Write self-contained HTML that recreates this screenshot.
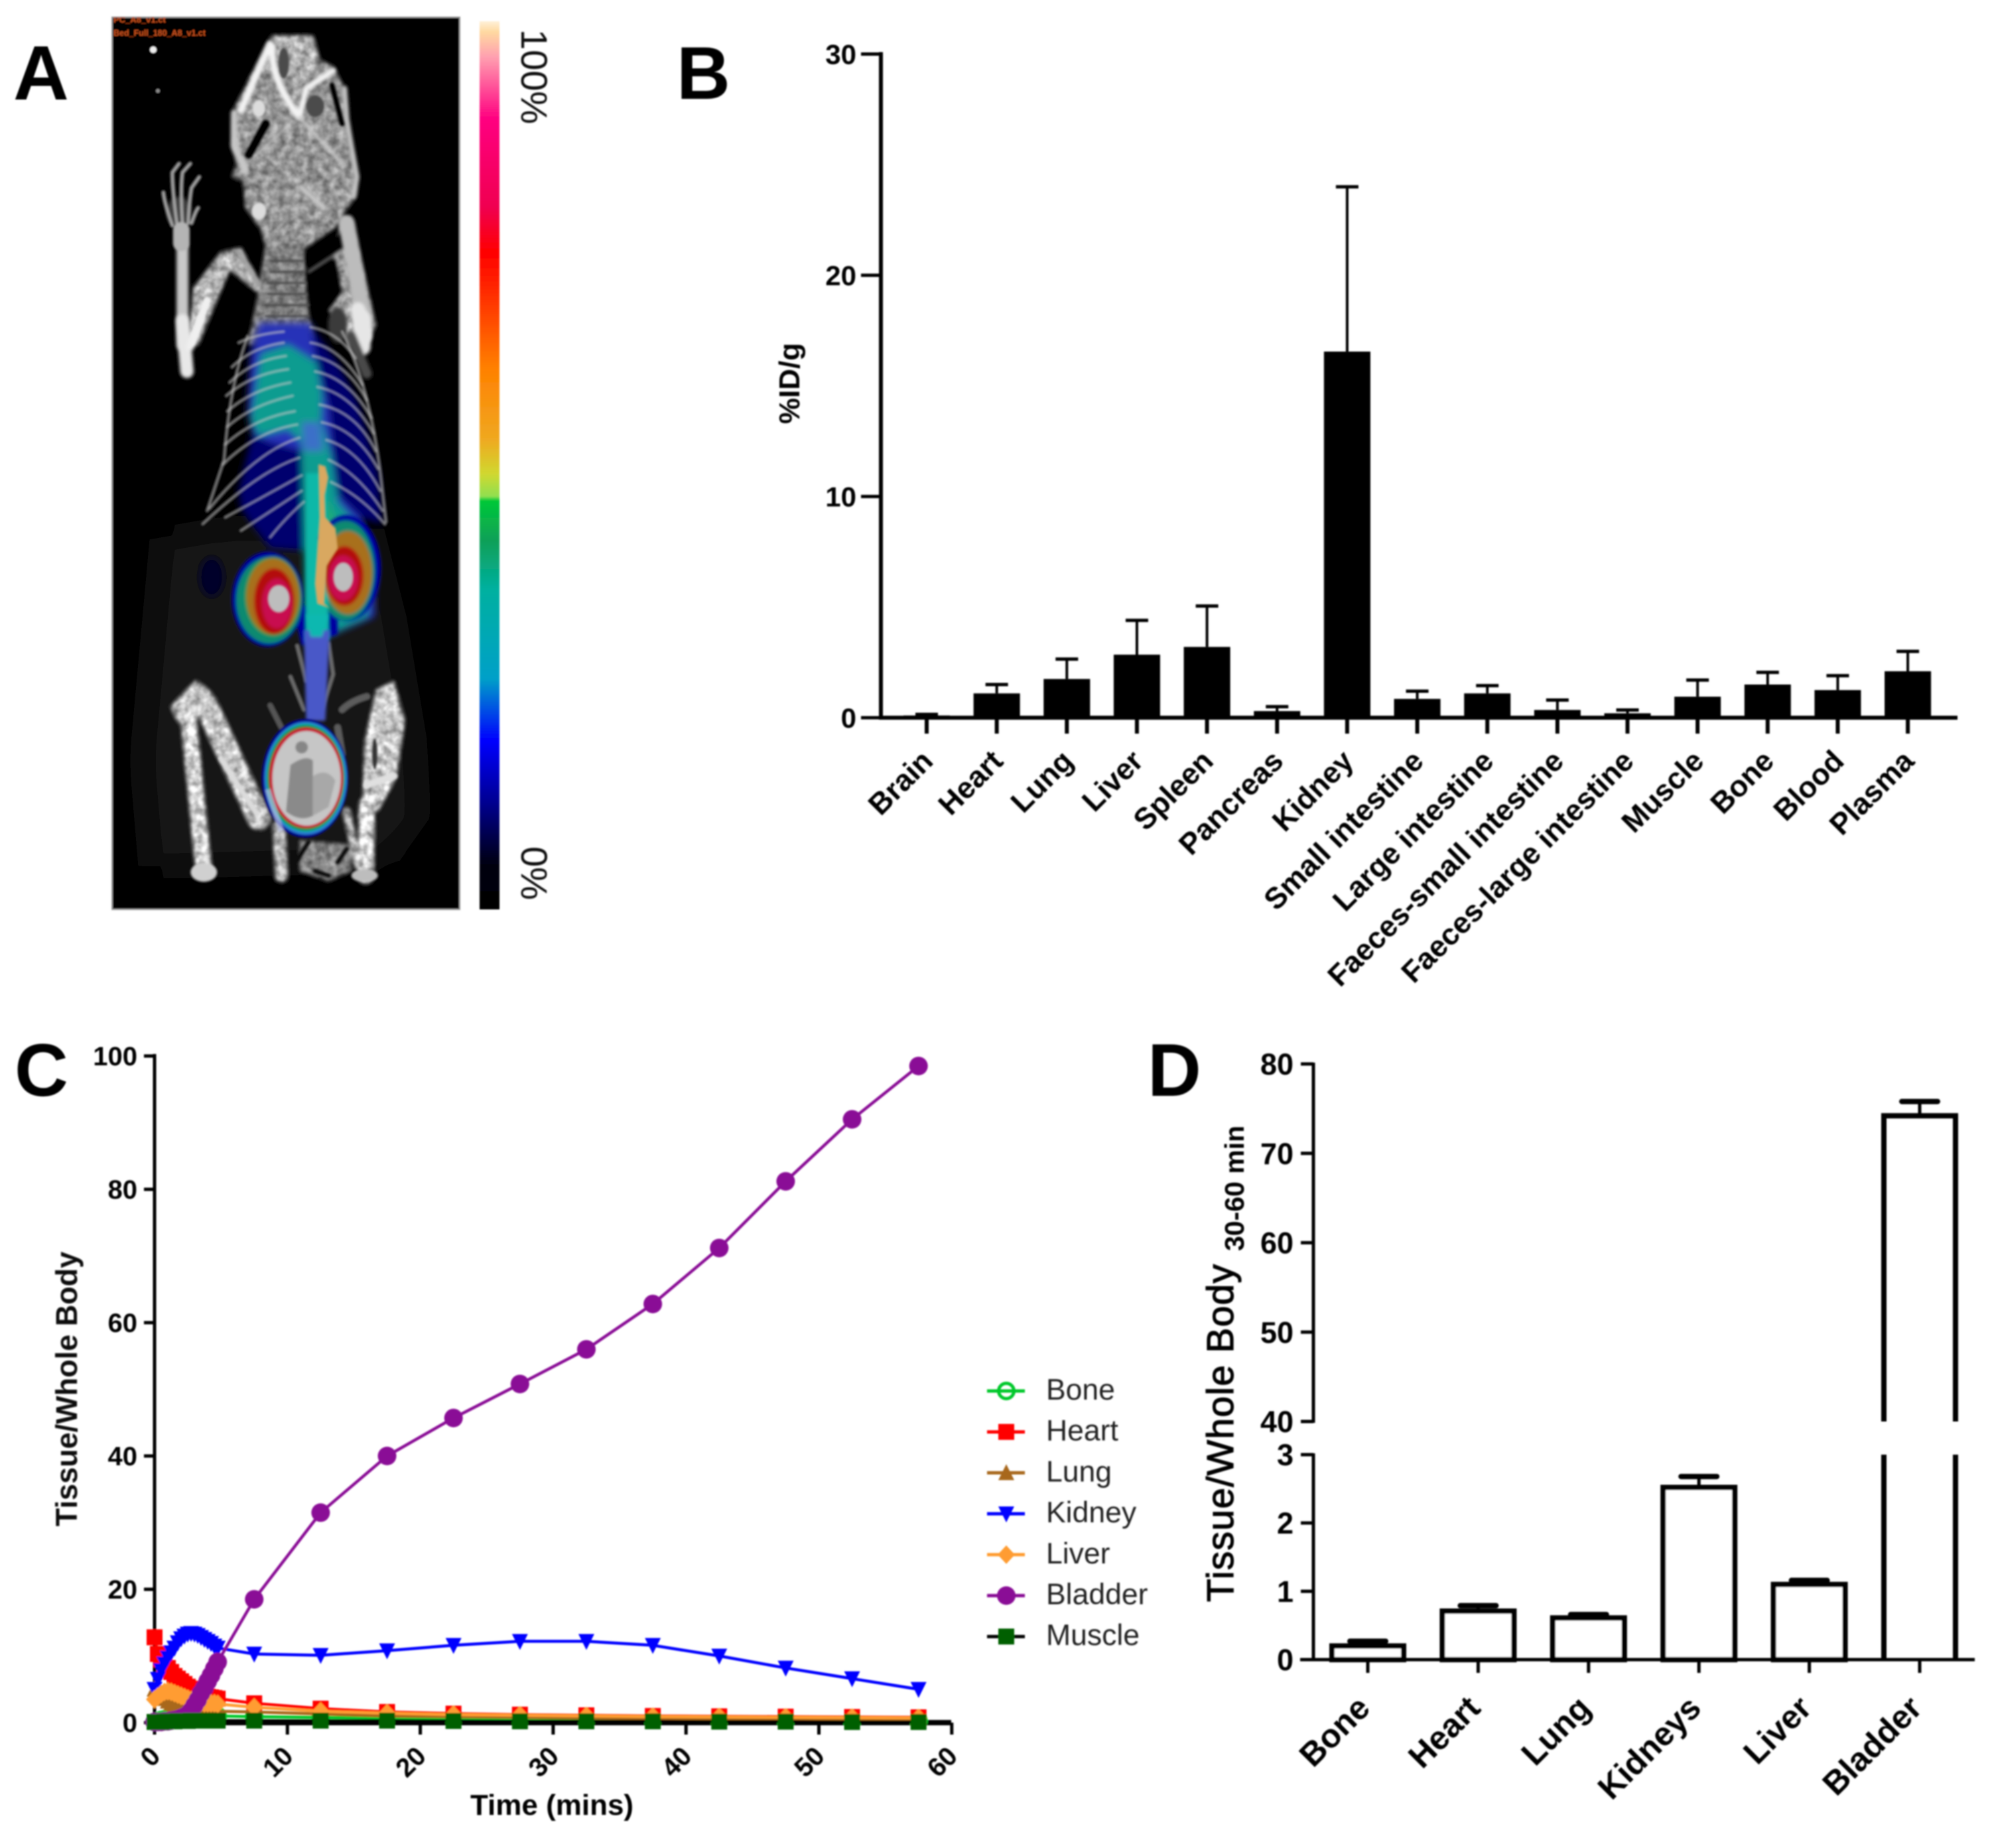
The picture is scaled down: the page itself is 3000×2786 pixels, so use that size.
<!DOCTYPE html>
<html lang="en">
<head>
<meta charset="utf-8">
<title>Biodistribution figure</title>
<style>
html,body{margin:0;padding:0;background:#fff;width:3000px;height:2786px;overflow:hidden}
svg{display:block}
text{font-family:"Liberation Sans",sans-serif}
</style>
</head>
<body>
<svg id="fig" xmlns="http://www.w3.org/2000/svg" width="3000" height="2786" viewBox="0 0 3000 2786">
<defs>
<linearGradient id="cbar" x1="0" y1="0" x2="0" y2="1">
<stop offset="0" stop-color="#fff0d8"/><stop offset=".012" stop-color="#ffd9a0"/><stop offset=".04" stop-color="#ffa0b0"/>
<stop offset=".11" stop-color="#ff0080"/><stop offset=".21" stop-color="#f00050"/><stop offset=".26" stop-color="#ff0000"/>
<stop offset=".31" stop-color="#ff3000"/><stop offset=".39" stop-color="#ff8000"/><stop offset=".47" stop-color="#f0a820"/>
<stop offset=".51" stop-color="#d0d830"/><stop offset=".535" stop-color="#90e050"/><stop offset=".54" stop-color="#00c838"/>
<stop offset=".585" stop-color="#10a058"/><stop offset=".64" stop-color="#00b0a0"/><stop offset=".74" stop-color="#00a0c8"/>
<stop offset=".81" stop-color="#0000ff"/><stop offset=".88" stop-color="#000090"/><stop offset=".95" stop-color="#000010"/><stop offset="1" stop-color="#000"/>
</linearGradient>
<clipPath id="imgclip"><rect x="170" y="26" width="522" height="1344"/></clipPath>
<filter id="b2" filterUnits="userSpaceOnUse" x="-500" y="-500" width="3000" height="3000"><feGaussianBlur stdDeviation="4"/></filter>
<filter id="b5" filterUnits="userSpaceOnUse" x="-500" y="-500" width="3000" height="3000"><feGaussianBlur stdDeviation="7"/></filter>
<filter id="b12" filterUnits="userSpaceOnUse" x="-500" y="-500" width="3000" height="3000"><feGaussianBlur stdDeviation="16"/></filter>
<filter id="b40" filterUnits="userSpaceOnUse" x="-1500" y="-1500" width="5000" height="6000"><feGaussianBlur stdDeviation="85"/></filter>
<filter id="tex" filterUnits="userSpaceOnUse" x="-500" y="-500" width="3000" height="3000" color-interpolation-filters="sRGB">
<feGaussianBlur in="SourceGraphic" stdDeviation="8" result="b"/>
<feTurbulence type="fractalNoise" baseFrequency=".03" numOctaves="3" seed="4" result="n"/>
<feColorMatrix in="n" type="matrix" values="0 0 0 .9 .25  0 0 0 .9 .25  0 0 0 .9 .25  0 0 0 0 1" result="nm"/>
<feGaussianBlur in="nm" stdDeviation="2" result="nb"/>
<feComposite in="b" in2="nb" operator="arithmetic" k1="1.2" k2=".2" k3="0" k4="0"/>
</filter>
<filter id="soft" filterUnits="userSpaceOnUse" x="0" y="0" width="3000" height="2786"><feGaussianBlur stdDeviation="1"/></filter>
</defs>
<rect width="3000" height="2786" fill="#fff"/>

<g id="panelA" filter="url(#soft)">
<text x="20" y="150" font-size="116" font-weight="700" fill="#000">A</text>
<rect x="169" y="26" width="524" height="1345" fill="#030303" stroke="#999" stroke-width="2"/>
<g clip-path="url(#imgclip)">
<text x="171" y="34" font-size="13" font-weight="700" fill="#c8501c">PC_A8_v1.ct</text>
<text x="171" y="54" font-size="12.5" font-weight="700" fill="#c8501c">Bed_Full_180_A8_v1.ct</text>
<circle cx="231" cy="75" r="5" fill="#eee"/>
<circle cx="238" cy="137" r="3" fill="#888"/>

<!-- soft body haze -->
<g transform="translate(170,480) scale(.339,.3333)" filter="url(#b40)">
<path d="M220,1000 L500,950 L1150,950 L1250,1350 L1340,1900 L1360,2250 L1220,2450 L170,2480 L130,2000 Z" fill="#131313"/>
</g>

<!-- top: skull, arms, neck -->
<g transform="translate(170,20) scale(.339,.3333)">
<g filter="url(#tex)">
<path d="M710,100 L890,100 L920,210 L980,240 L1030,340 L1040,480 L1060,600 L1085,740 L1080,830 L1030,900 L1000,960 L860,1060 L680,1060 L660,980 L590,880 L580,760 L530,740 L550,680 L530,600 L540,430 L600,310 L690,130 Z" fill="#8f8f8f"/>
<path d="M710,100 L890,100 L920,210 L860,300 L770,300 Z" fill="#acacac"/>
<path d="M680,1040 L850,1040 L870,1350 L900,1500 L600,1500 L640,1300 Z" fill="#7a7a7a"/>
<path d="M1020,920 L1060,920 L1170,1410 L1130,1500 L1060,1500 L960,1340 L1020,1260 L1000,1160 L980,1110 Z" fill="#9a9a9a"/>
<path d="M480,1080 L570,1060 L660,1230 L640,1260 L520,1160 L380,1500 L330,1500 L360,1240 Z" fill="#adadad"/>
</g>
<g filter="url(#b5)">
<ellipse cx="1000" cy="1410" rx="42" ry="80" fill="#3a3a3a"/>
<path d="M860,1090 L1020,990 L1040,1060 L860,1150 Z" fill="#000"/>
<path d="M860,1170 L990,1110 L1000,1270 L950,1340 L880,1300 Z" fill="#000"/>
<ellipse cx="295" cy="900" rx="55" ry="70" fill="#3c3c3c"/>
</g>
<g filter="url(#b5)" fill="none" stroke-linecap="round">
<g stroke="#f4f4f4">
<path d="M700,140 L620,320 L570,440" stroke-width="30"/>
<path d="M710,150 Q700,300 830,470" stroke-width="30"/>
<path d="M830,470 L860,340 L980,260" stroke-width="24"/>
</g>
<g stroke="#c8c8c8">
<path d="M830,470 L1020,680" stroke-width="14"/>
<path d="M790,500 L640,640" stroke-width="10"/>
<path d="M540,450 L540,600 L590,710" stroke-width="28"/>
<path d="M1030,340 L1040,480 L1060,600 L1085,740 L1070,830" stroke-width="22"/>
<path d="M840,790 L940,880" stroke-width="24"/>
<path d="M1040,950 L1120,1400" stroke-width="70" stroke="#bcbcbc"/>
<path d="M1090,1340 L1120,1460" stroke-width="66" stroke="#e6e6e6"/>
<path d="M870,1170 L1020,1070" stroke-width="9" stroke="#8a8a8a"/>
<path d="M310,1060 L310,1500" stroke-width="52"/>
<path d="M560,1080 L650,1230" stroke-width="20" stroke="#a0a0a0"/>
</g>
</g>
<g filter="url(#b2)" fill="none" stroke-linecap="round">
<g stroke="#a2a2a2" stroke-width="15">
<path d="M265,960 Q230,860 225,810"/><path d="M285,950 Q265,800 265,720 L295,680"/><path d="M310,950 Q300,800 310,720 L345,680"/><path d="M335,950 Q340,850 350,790 L385,740"/><path d="M350,950 Q370,890 380,880"/>
</g>
<path d="M305,980 L305,1040" stroke="#b4b4b4" stroke-width="72"/>
<path d="M420,1300 L350,1490" stroke="#f0f0f0" stroke-width="32"/>
<ellipse cx="650" cy="430" rx="28" ry="38" fill="#ddd" stroke="none"/>
<ellipse cx="650" cy="895" rx="32" ry="38" fill="#ddd" stroke="none"/>
<ellipse cx="900" cy="420" rx="40" ry="50" fill="#4c4c4c" stroke="none"/>
<ellipse cx="760" cy="225" rx="24" ry="70" fill="#4c4c4c" stroke="none"/>
<path d="M680,500 L605,640" stroke="#000" stroke-width="36"/>
<path d="M975,325 L1020,500" stroke="#000" stroke-width="24"/>
<g stroke="#4f4f4f" stroke-width="10">
<path d="M700,1120 H850"/><path d="M700,1170 H850"/><path d="M690,1220 H860"/><path d="M690,1270 H860"/><path d="M680,1320 H870"/><path d="M680,1370 H870"/>
</g>
</g>
</g>

<!-- middle: heat map and rib cage -->
<g transform="translate(170,480) scale(.339,.3333)">
<g filter="url(#b5)" fill="none" stroke-linecap="round">
<path d="M310,10 L330,240" stroke="#e8e8e8" stroke-width="58"/>
<path d="M395,0 L345,130" stroke="#f0f0f0" stroke-width="32"/>
<path d="M1110,0 L1110,130" stroke="#e6e6e6" stroke-width="72"/>
<path d="M1060,80 L1130,250" stroke="#4a4a4a" stroke-width="44"/>
</g>
<g filter="url(#b12)">
<path d="M650,30 L880,30 L1000,200 L1090,380 L1180,700 L1195,930 L1100,900 L960,1000 L850,1050 L700,1040 L640,960 L570,860 L560,780 L620,520 L600,400 L610,150 Z" fill="#00006e"/>
<ellipse cx="440" cy="1170" rx="55" ry="90" fill="#00002a"/>
<path d="M650,20 L880,20 L900,170 L960,400 L980,620 L1000,800 L1100,900 L1165,1100 L1165,1350 L860,1480 L850,1000 L850,600 L700,560 L620,520 L600,420 L620,170 Z" fill="#2830b8"/>
<path d="M660,160 L780,120 L905,200 L930,350 L925,460 L970,620 L1000,830 L1100,950 L1145,1100 L1130,1350 L860,1480 L850,1000 L840,560 L780,500 L650,530 L615,460 Z" fill="#0a9c90"/>
<path d="M840,470 L920,470 L935,600 L850,600 Z" fill="#3a70c8"/>
<path d="M950,800 L1000,950 L960,1000 Z" fill="#20b070"/>
</g>
<g filter="url(#b5)">
<path d="M860,700 L950,700 L960,1450 L860,1450 Z" fill="#10b8a8"/>
<ellipse cx="690" cy="1270" rx="160" ry="215" fill="#0000a0"/>
<ellipse cx="1040" cy="1130" rx="152" ry="240" fill="#0000a0"/>
<path d="M800,1300 L1000,1300 L1000,1430 L840,1480 Z" fill="#0000a0"/>
<ellipse cx="695" cy="1275" rx="146" ry="195" fill="#0a8a70"/>
<ellipse cx="1035" cy="1140" rx="130" ry="225" fill="#0a8a70"/>
<path d="M860,1000 L950,1000 L960,1460 L860,1460 Z" fill="#10b8a8"/>
<ellipse cx="712" cy="1258" rx="124" ry="180" fill="#2f9a3c"/>
<ellipse cx="712" cy="1258" rx="118" ry="172" fill="#a8701c"/>
<ellipse cx="718" cy="1280" rx="90" ry="150" fill="#b31010"/>
<ellipse cx="730" cy="1290" rx="66" ry="112" fill="#c80a50"/>
<ellipse cx="1045" cy="1150" rx="108" ry="188" fill="#a8701c"/>
<ellipse cx="1030" cy="1165" rx="85" ry="135" fill="#b31010"/>
<ellipse cx="1025" cy="1175" rx="66" ry="102" fill="#c80a50"/>
</g>
<g filter="url(#b2)">
<ellipse cx="738" cy="1268" rx="48" ry="62" fill="#bdbdbd"/>
<ellipse cx="1025" cy="1170" rx="44" ry="66" fill="#bdbdbd"/>
<path d="M915,660 L945,670 L958,720 L942,800 L945,900 L990,950 L1000,1040 L950,1120 L940,1290 L965,1310 L910,1290 L900,1200 L920,900 Z" fill="#d9a860"/>
</g>
<g filter="url(#b2)" fill="none" stroke="#c4c4c4" stroke-opacity=".6" stroke-width="12" stroke-linecap="round">
<path d="M760,60 Q640,70 560,110"/><path d="M760,110 Q620,130 530,220"/><path d="M770,170 Q620,190 520,290"/><path d="M780,230 Q620,250 505,350"/><path d="M790,290 Q620,320 510,420"/><path d="M800,350 Q620,390 510,490"/><path d="M810,420 Q630,450 500,570"/><path d="M820,480 Q640,510 490,660"/><path d="M830,540 Q640,600 430,860"/><path d="M830,630 Q650,690 400,930"/><path d="M840,710 Q700,790 500,900"/><path d="M840,780 Q720,860 570,960"/><path d="M850,830 Q770,900 700,990"/>
<path d="M880,40 Q1000,60 1080,180"/><path d="M880,110 Q1010,130 1110,300"/><path d="M890,170 Q1040,200 1130,370"/><path d="M900,240 Q1050,270 1150,450"/><path d="M910,310 Q1060,340 1160,520"/><path d="M920,390 Q1080,420 1170,600"/><path d="M930,470 Q1080,500 1180,680"/><path d="M950,550 Q1090,590 1190,780"/><path d="M960,640 Q1090,700 1200,870"/><path d="M970,740 Q1100,800 1210,930"/>
<path d="M600,80 Q520,300 495,640 L420,870"/><path d="M1020,60 Q1140,300 1190,700 L1215,920"/>
</g>
</g>

<!-- bottom: lower spine, legs, bladder -->
<g transform="translate(170,930) scale(.339,.3333)">
<g filter="url(#tex)" fill="none" stroke-linecap="round">
<path d="M370,285 L255,405 L290,480 L470,440 L440,340 Z" fill="#b8b8b8" stroke="none"/>
<path d="M335,440 L405,1150" stroke="#cdcdcd" stroke-width="72"/>
<path d="M415,400 L650,910" stroke="#bdbdbd" stroke-width="105"/>
<path d="M1250,290 L1300,470 L1260,730 L1180,880 L1110,860 L1120,560 L1170,330 Z" fill="#c0c0c0" stroke="none"/>
<path d="M1130,850 L1125,1170" stroke="#d0d0d0" stroke-width="72"/>
<path d="M740,950 L750,1170" stroke="#aeaeae" stroke-width="58"/>
<path d="M1040,880 L1090,1120" stroke="#aeaeae" stroke-width="36"/>
<path d="M830,1010 L1060,1030 L1060,1150 L960,1195 L830,1150 Z" fill="#808080" stroke="none"/>
</g>
<g filter="url(#b2)" fill="none" stroke-linecap="round">
<path d="M480,640 L640,890" stroke="#dcdcdc" stroke-width="24"/>
<ellipse cx="405" cy="1155" rx="58" ry="42" fill="#d0d0d0" stroke="none"/>
<path d="M1130,760 L1250,720" stroke="#e0e0e0" stroke-width="32"/>
<ellipse cx="1165" cy="620" rx="12" ry="70" fill="#333" stroke="none"/>
<ellipse cx="1120" cy="1170" rx="58" ry="28" fill="#bdbdbd" stroke="none"/>
<path d="M1020,420 Q1060,380 1130,360 M1000,500 L1020,620" stroke="#5c5c5c" stroke-width="32"/>
<path d="M700,400 L750,500" stroke="#555" stroke-width="26"/>
<path d="M820,130 L860,290 M790,270 L850,420 M960,120 L980,260 L930,420" stroke="#6a6a6a" stroke-width="18"/>
<path d="M870,1020 L820,1100 M1040,1050 L1000,1110 M900,1150 L960,1170" stroke="#0a0a0a" stroke-width="20"/>
</g>
<g filter="url(#b5)">
<path d="M850,60 L965,60 L945,470 L860,470 Z" fill="#4a58c8"/>
<path d="M860,-10 L960,-10 L930,90 L880,90 Z" fill="#10b8b0"/>
</g>
<g filter="url(#b2)">
<ellipse cx="855" cy="730" rx="192" ry="268" fill="#000090"/>
<ellipse cx="858" cy="730" rx="184" ry="256" fill="#2a78d0"/>
<ellipse cx="858" cy="728" rx="176" ry="246" fill="#00a8a0"/>
<ellipse cx="858" cy="728" rx="170" ry="238" fill="#0d8d3c"/>
<ellipse cx="860" cy="728" rx="165" ry="228" fill="#c81030"/>
<ellipse cx="862" cy="730" rx="152" ry="214" fill="#c6c6c6"/>
<path d="M790,670 Q860,620 890,650 L890,900 Q830,930 770,880 Z" fill="#8a8a8a"/>
<circle cx="840" cy="590" r="28" fill="#868686"/>
<path d="M890,720 Q950,680 990,740 L960,860 L890,900 Z" fill="#a8a8a8"/>
<path d="M690,780 L750,970" stroke="#b8c0e0" stroke-width="24" fill="none" stroke-opacity=".7"/>
</g>
</g>
</g>

<rect x="723" y="32" width="30" height="1339" fill="url(#cbar)"/>
<text transform="translate(786,44) rotate(90)" font-size="56" fill="#111">100%</text>
<text transform="translate(786,1276) rotate(90)" font-size="56" fill="#111">0%</text>
</g>

<g id="panelB" filter="url(#soft)"></g>
<g id="panelC" filter="url(#soft)"></g>
<g id="panelD" filter="url(#soft)"></g>
</svg>

<script>
// ---- Panel B data ----
const organCategories = ["Brain","Heart","Lung","Liver","Spleen","Pancreas","Kidney","Small intestine","Large intestine","Faeces-small intestine","Faeces-large intestine","Muscle","Bone","Blood","Plasma"];
const organMeans = [0.1,1.1,1.75,2.85,3.2,0.3,16.55,0.85,1.1,0.35,0.2,0.95,1.5,1.25,2.1];
const organErrorTops = [0.15,1.5,2.65,4.4,5.05,0.5,24,1.2,1.45,0.8,0.35,1.7,2.05,1.9,3];
const organTicks = [0,10,20,30];

// ---- Panel C data ----
const timeMinutes = [0,0.25,0.5,0.75,1,1.25,1.5,1.75,2,2.25,2.5,2.75,3,3.25,3.5,3.75,4,4.25,4.5,4.75,7.5,12.5,17.5,22.5,27.5,32.5,37.5,42.5,47.5,52.5,57.5];
const boneValues = [0.1,0.2,0.4,0.5,0.7,0.8,0.9,1,1,1.1,1.1,1.1,1.1,1.1,1.1,1.1,1.1,1.1,1,1,0.9,0.8,0.7,0.6,0.55,0.5,0.45,0.4,0.35,0.3,0.3];
const heartValues = [12.8,10.3,9.5,8.8,8.2,7.6,7,6.6,6.2,5.8,5.4,5.1,4.8,4.5,4.3,4.1,3.9,3.8,3.7,3.6,2.9,2.1,1.6,1.35,1.2,1.1,1,0.95,0.9,0.85,0.8];
const lungValues = [5,4.5,4,3.6,3.2,2.9,2.7,2.5,2.4,2.2,2.1,2,1.9,1.9,1.8,1.8,1.8,1.7,1.7,1.7,1.6,1.3,1,0.9,0.8,0.7,0.6,0.55,0.5,0.45,0.4];
const kidneyValues = [5,6.5,7.8,8.8,9.7,10.5,11.2,12,12.6,13,13.3,13.4,13.3,13.1,12.8,12.5,12.2,11.9,11.5,11.2,10.3,10.1,10.8,11.6,12.2,12.2,11.6,10,8.2,6.6,5];
const liverValues = [3.5,3.9,4.3,4.6,4.7,4.6,4.4,4.2,4,3.8,3.6,3.4,3.2,3.1,3,2.9,2.9,2.9,2.9,2.8,2.3,1.7,1.4,1.2,1.1,1,0.9,0.85,0.8,0.75,0.7];
const bladderValues = [0.1,0.1,0.1,0.2,0.2,0.3,0.4,0.5,0.7,0.9,1.2,1.8,2.6,3.4,4.4,5.2,6.2,7.1,8.1,9.1,18.5,31.5,40,45.7,50.8,56,62.8,71.2,81.2,90.5,98.5];
const muscleValues = [0.1,0.1,0.1,0.15,0.2,0.2,0.2,0.25,0.25,0.25,0.25,0.3,0.3,0.3,0.3,0.3,0.3,0.3,0.3,0.3,0.3,0.3,0.3,0.25,0.2,0.2,0.2,0.15,0.15,0.1,0.1];
const timeTicks = [0,10,20,30,40,50,60];
const ratioTicks = [0,20,40,60,80,100];
const seriesNames = ["Bone","Heart","Lung","Kidney","Liver","Bladder","Muscle"];

// ---- Panel D data ----
const tissueCategories = ["Bone","Heart","Lung","Kidneys","Liver","Bladder"];
const tissueMeans = [0.2,0.71,0.61,2.52,1.1,74.2];
const tissueErrorTops = [0.27,0.79,0.66,2.68,1.16,75.8];
const lowerTicks = [0,1,2,3];
const upperTicks = [40,50,60,70,80];

const NS = 'http://www.w3.org/2000/svg';
function mk(tag, parent, name, props, txt) {
  const el = document.createElementNS(NS, tag);
  for (const k in props) el.setAttribute(k, props[k]);
  
  
  if (txt !== undefined) el.textContent = txt;
  parent.appendChild(el);
  return el;
}
function line(p, name, x1, y1, x2, y2, w, c, cap) {
  return mk('line', p, name, {x1, y1, x2, y2, stroke: c || '#000', 'stroke-width': w, 'stroke-linecap': cap || 'butt'});
}
function label(p, name, x, y, s, size, weight, anchor, rot, fill) {
  const props = {x, y, 'font-size': size, 'font-weight': weight, 'text-anchor': anchor, fill: fill || '#000'};
  if (rot) props.transform = 'rotate(' + rot + ' ' + x + ' ' + y + ')';
  return mk('text', p, name, props, s);
}

// ===== Panel B =====
(function () {
  const g = document.getElementById('panelB');
  const yB = v => 1082 - v * 33.35;
  const xB = i => 1397 + i * 105.65;
  label(g, 'panel-b-label', 1020, 149, 'B', 112, 700, 'start');
  label(g, 'y-axis-title', 1205, 578, '%ID/g', 44, 700, 'middle', -90);
  line(g, 'y-axis', 1328, yB(30) - 3, 1328, yB(0) + 3, 6);
  line(g, 'x-axis', 1325, yB(0), 2951, yB(0), 6);
  organTicks.forEach(t => {
    line(g, 'y-tick', 1298, yB(t), 1328, yB(t), 5);
    label(g, 'y-tick-label', 1291, yB(t) + 15, String(t), 42, 700, 'end');
  });
  organCategories.forEach((c, i) => {
    const x = xB(i);
    line(g, 'x-tick', x, yB(0), x, yB(0) + 24, 6);
    line(g, 'error-bar', x, yB(organMeans[i]), x, yB(organErrorTops[i]), 4);
    line(g, 'error-cap', x - 17, yB(organErrorTops[i]), x + 17, yB(organErrorTops[i]), 5);
    mk('rect', g, 'bar-' + c.toLowerCase().replace(/\s+/g, '-'), {x: x - 35, y: yB(organMeans[i]), width: 70, height: yB(0) - yB(organMeans[i]), fill: '#000'});
    label(g, 'x-tick-label', x + 12, 1150, c, 45, 700, 'end', -45);
  });
})();

// ===== Panel C =====
(function () {
  const g = document.getElementById('panelC');
  const xC = t => 233 + t * 20.03;
  const yC = v => 2597 - v * 10.05;
  const styles = {
    Bone: {c: '#00c82a', m: 'open'}, Heart: {c: '#ff0000', m: 'square'}, Lung: {c: '#a8681c', m: 'up'},
    Kidney: {c: '#0000ff', m: 'down'}, Liver: {c: '#ff9c30', m: 'diamond'}, Bladder: {c: '#8a0a96', m: 'circle'},
    Muscle: {c: '#005f00', m: 'square', l: '#000'}
  };
  function marker(p, name, x, y, st) {
    const c = st.c;
    if (st.m === 'square') mk('rect', p, name, {x: x - 12, y: y - 12, width: 24, height: 24, fill: c});
    else if (st.m === 'circle') mk('circle', p, name, {cx: x, cy: y, r: 14, fill: c});
    else if (st.m === 'open') mk('circle', p, name, {cx: x, cy: y, r: 11.5, fill: 'none', stroke: c, 'stroke-width': 5});
    else if (st.m === 'up') mk('polygon', p, name, {points: (x - 12) + ',' + (y + 11) + ' ' + (x + 12) + ',' + (y + 11) + ' ' + x + ',' + (y - 13), fill: c});
    else if (st.m === 'down') mk('polygon', p, name, {points: (x - 12) + ',' + (y - 11) + ' ' + (x + 12) + ',' + (y - 11) + ' ' + x + ',' + (y + 13), fill: c});
    else if (st.m === 'diamond') mk('polygon', p, name, {points: x + ',' + (y - 14) + ' ' + (x + 13) + ',' + y + ' ' + x + ',' + (y + 14) + ' ' + (x - 13) + ',' + y, fill: c});
  }
  label(g, 'panel-c-label', 22, 1652, 'C', 112, 700, 'start');
  label(g, 'y-axis-title', 116, 2094, 'Tissue/Whole Body', 45, 700, 'middle', -90, '#111');
  label(g, 'x-axis-title', 832, 2736, 'Time (mins)', 44, 700, 'middle');
  line(g, 'y-axis', 233, yC(100) - 3, 233, yC(0) + 4, 5);
  line(g, 'x-axis', 230, yC(0), 1434, yC(0), 8);
  ratioTicks.forEach(t => {
    line(g, 'y-tick', 217, yC(t), 233, yC(t), 5);
    label(g, 'y-tick-label', 207, yC(t) + 14, String(t), 40, 700, 'end');
  });
  timeTicks.forEach(t => {
    line(g, 'x-tick', xC(t), yC(0), xC(t), yC(0) + 18, 5);
    label(g, 'x-tick-label', xC(t) + 11, 2650, String(t), 40, 700, 'end', -45);
  });
  const valueSets = [boneValues, heartValues, lungValues, kidneyValues, liverValues, bladderValues, muscleValues];
  valueSets.forEach((vals, si) => {
    const nm = seriesNames[si], st = styles[nm];
    const sg = mk('g', g, 'series-' + nm.toLowerCase(), {});
    const pts = timeMinutes.map((t, i) => xC(t) + ',' + yC(vals[i])).join(' ');
    mk('polyline', sg, 'line-' + nm.toLowerCase(), {points: pts, fill: 'none', stroke: st.l || st.c, 'stroke-width': 4.5, 'stroke-linejoin': 'round'});
    timeMinutes.forEach((t, i) => marker(sg, 'point-' + nm.toLowerCase(), xC(t), yC(vals[i]), st));
  });
  const legend = mk('g', g, 'legend', {});
  seriesNames.forEach((nm, i) => {
    const y = 2097 + i * 61.7, st = styles[nm];
    const e = mk('g', legend, 'legend-entry-' + nm.toLowerCase(), {});
    line(e, 'legend-line', 1488, y, 1545, y, 5, st.l || st.c);
    marker(e, 'legend-marker', 1517, y, st);
    label(e, 'legend-label', 1577, y + 13, nm, 44.5, 400, 'start', 0, '#222');
  });
})();

// ===== Panel D =====
(function () {
  const g = document.getElementById('panelD');
  const brokenY = v => v <= 3 ? 2502 - v * 103 : 2143 - (v - 40) * 13.475;
  const xD = i => 2062 + i * 166.4;
  label(g, 'panel-d-label', 1730, 1652, 'D', 112, 700, 'start');
  const yTitle = label(g, 'y-axis-title', 1859, 2415, 'Tissue/Whole Body', 57, 400, 'start', -90, '#000');
  yTitle.setAttribute('textLength', 509);
  yTitle.setAttribute('stroke', '#000');
  yTitle.setAttribute('stroke-width', '1.2');
  label(g, 'y-axis-title-subscript', 1875, 1886, '30-60 min', 41, 700, 'start', -90);
  line(g, 'y-axis-upper', 1980, brokenY(80) - 2, 1980, 2143 + 2, 5);
  line(g, 'y-axis-lower', 1980, 2193 - 2, 1980, 2504, 5);
  line(g, 'x-axis', 1960, 2502, 2977, 2502, 5);
  upperTicks.forEach(t => {
    line(g, 'y-tick', 1961, brokenY(t), 1980, brokenY(t), 5);
    label(g, 'y-tick-label', 1950, brokenY(t) + 16, String(t), 45, 700, 'end');
  });
  lowerTicks.forEach(t => {
    line(g, 'y-tick', 1961, brokenY(t), 1980, brokenY(t), 5);
    label(g, 'y-tick-label', 1950, brokenY(t) + 16, String(t), 45, 700, 'end');
  });
  tissueCategories.forEach((c, i) => {
    const x = xD(i), top = brokenY(tissueMeans[i]), errY = brokenY(tissueErrorTops[i]);
    const hw = 54;
    line(g, 'x-tick', x, 2502, x, 2522, 5);
    line(g, 'error-bar', x, top, x, errY, 5);
    line(g, 'error-cap', x - 27, errY, x + 27, errY, 8, '#000', 'round');
    const nm = 'bar-' + c.toLowerCase();
    if (tissueMeans[i] > 3) {
      const b = mk('g', g, nm, {});
      line(b, 'bar-top', x - hw, top, x + hw, top, 8, '#000', 'square');
      line(b, 'bar-left-upper', x - hw, top, x - hw, 2143, 8);
      line(b, 'bar-right-upper', x + hw, top, x + hw, 2143, 8);
      line(b, 'bar-left-lower', x - hw, 2193, x - hw, 2502, 8);
      line(b, 'bar-right-lower', x + hw, 2193, x + hw, 2502, 8);
    } else {
      mk('rect', g, nm, {x: x - hw, y: top, width: 2 * hw, height: 2502 - top, fill: '#fff', stroke: '#000', 'stroke-width': 8});
    }
    label(g, 'x-tick-label', x + 6, 2578, c, 50, 700, 'end', -45);
  });
})();
</script>
</body>
</html>
